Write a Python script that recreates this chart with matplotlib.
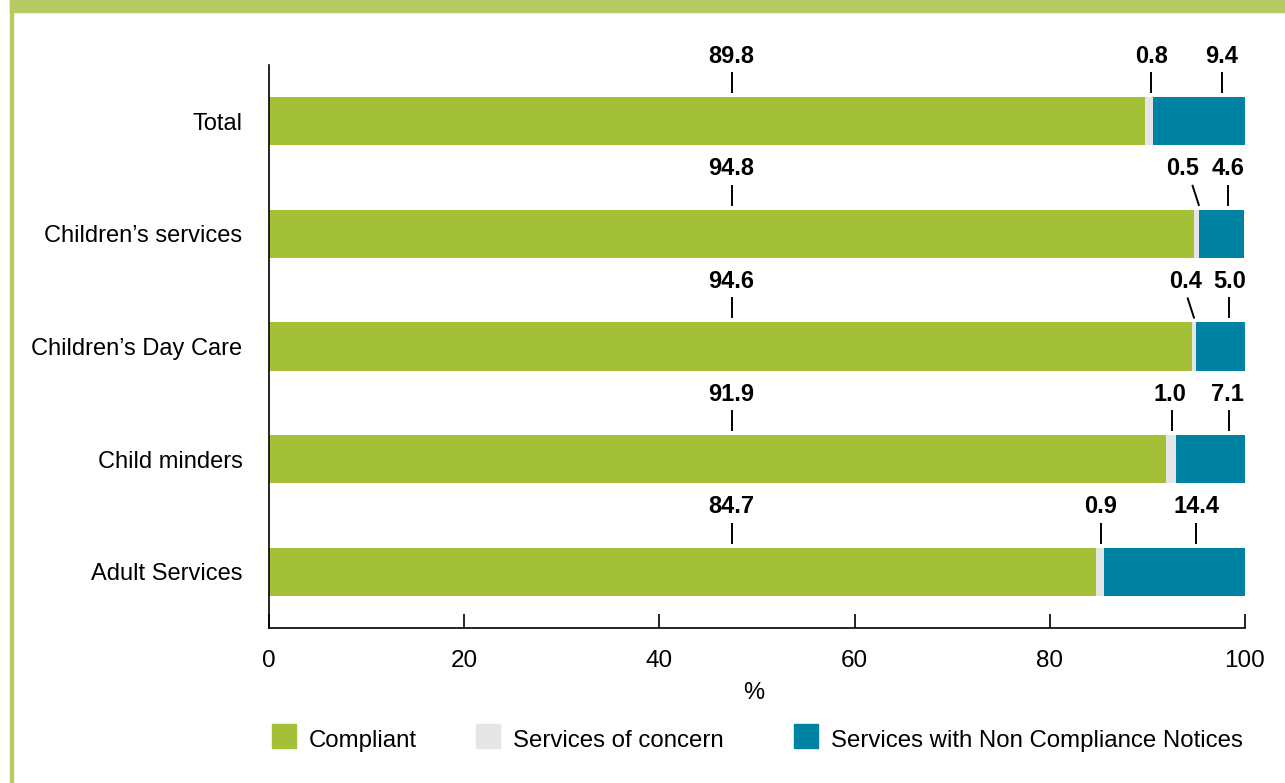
import matplotlib.pyplot as plt
from matplotlib.patches import Rectangle

plt.rcParams['font.family'] = ['Liberation Sans', 'DejaVu Sans']

categories = ["Total", "Children\u2019s services", "Children\u2019s Day Care",
              "Child minders", "Adult Services"]
compliant = [89.8, 94.8, 94.6, 91.9, 84.7]
concern = [0.8, 0.5, 0.4, 1.0, 0.9]
non_compliance = [9.4, 4.6, 5.0, 7.1, 14.4]
series_names = ["Compliant", "Services of concern",
                "Services with Non Compliance Notices"]

colors = ["#a3c037", "#e5e5e5", "#0083a3"]
frame_color = "#b6cb62"

# label placement along x (in % units): text x, leader-line top x, leader-line bottom x
pos_compliant = [47.4] * 5
pos_concern = [(90.4, 90.4, 90.4), (93.6, 94.6, 95.3), (93.9, 94.1, 94.8),
               (92.3, 92.5, 92.5), (85.2, 85.2, 85.2)]
pos_ncn = [(97.6, 97.6, 97.6), (98.3, 98.3, 98.3), (98.4, 98.4, 98.4),
           (98.2, 98.4, 98.4), (95.0, 95.0, 95.0)]

W, H = 1285, 783
fig = plt.figure(figsize=(W / 100, H / 100), dpi=100)

# light green frame (top band + left rule)
fig.patches.append(Rectangle((10 / W, 1 - 12 / H), 1 - 10 / W, 12 / H,
                             transform=fig.transFigure, color=frame_color, zorder=0))
fig.patches.append(Rectangle((10 / W, 0), 3 / W, 1, transform=fig.transFigure,
                             color=frame_color, zorder=0))

ax = fig.add_axes([269 / W, 1 - 628 / H, 976 / W, 563 / H])
y = list(range(len(categories)))
bh = 0.427

left2 = [a + b for a, b in zip(compliant, concern)]
ax.barh(y, compliant, height=bh, color=colors[0])
ax.barh(y, concern, left=compliant, height=bh, color=colors[1])
ax.barh(y, non_compliance, left=left2, height=bh, color=colors[2])

ax.set_xlim(0, 100)
ax.set_ylim(4.5, -0.5)
ax.set_yticks(y)
ax.set_yticklabels(categories, fontsize=17)
ax.set_xticks(range(0, 101, 20))
ax.tick_params(axis='x', direction='in', length=10, width=1.2, labelsize=17.5, pad=16)
ax.tick_params(axis='y', length=0, pad=19)
for s in ("top", "right"):
    ax.spines[s].set_visible(False)
for s in ("left", "bottom"):
    ax.spines[s].set_linewidth(1.2)

px = 1 / 112.5   # one pixel in y data units
text_dy = -65 * px
line_top = -(24 + 25) * px
line_bot = -(24 + 4) * px


def label(xt, x0, x1, yc, val):
    ax.text(xt, yc + text_dy, f"{val:.1f}", ha="center", va="center",
            fontsize=17, fontweight="bold")
    ax.plot([x0, x1], [yc + line_top, yc + line_bot], color="black", lw=1.4,
            solid_capstyle="butt")


for i in y:
    label(pos_compliant[i], pos_compliant[i], pos_compliant[i], i, compliant[i])
    label(*pos_concern[i], i, concern[i])
    label(*pos_ncn[i], i, non_compliance[i])

fig.text(754 / W, 1 - 693 / H, "%", ha="center", va="center", fontsize=17)

# legend row
leg_x = [272, 476, 794]
for xs, name, c in zip(leg_x, series_names, colors):
    fig.patches.append(Rectangle((xs / W, 1 - 748 / H), 24 / W, 24 / H,
                                 transform=fig.transFigure, color=c))
    fig.text((xs + 37) / W, 1 - 741 / H, name, ha="left", va="center", fontsize=17.3)

fig.savefig("out.png", dpi=100)
